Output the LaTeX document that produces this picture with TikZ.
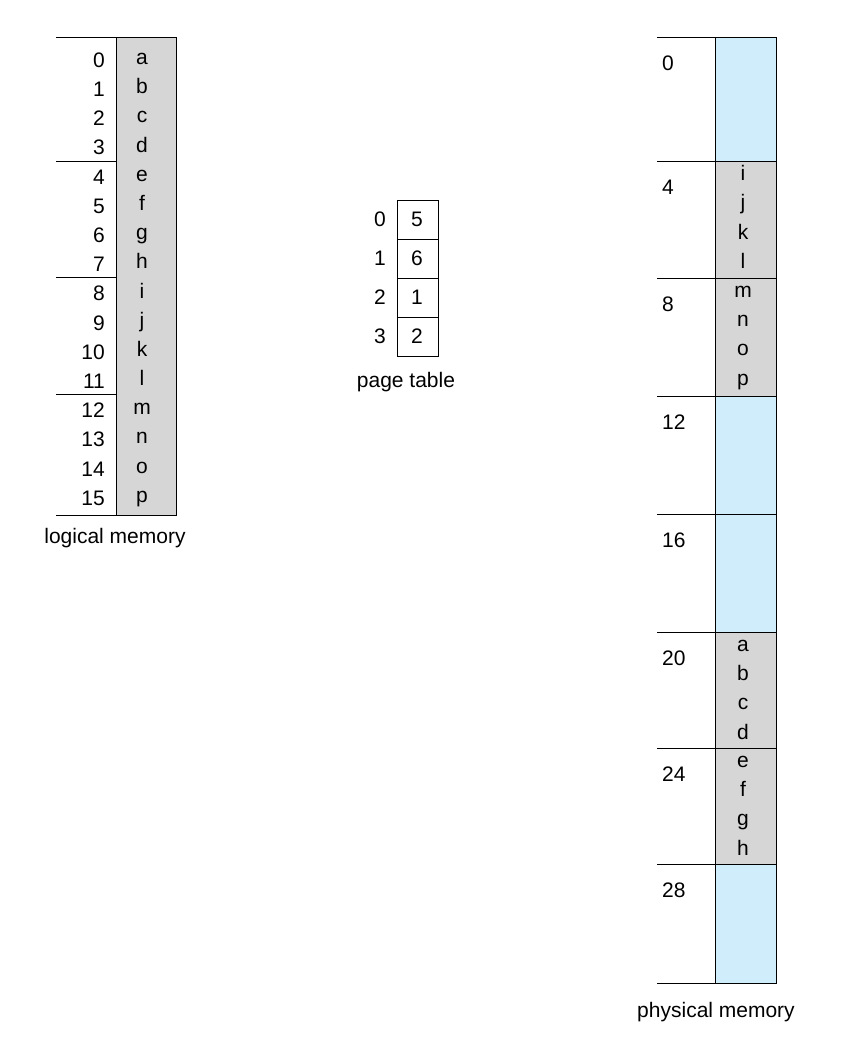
\documentclass[tikz,border=0pt]{standalone}
\usepackage{fontspec}
\setmainfont{Liberation Sans}
\definecolor{pg}{RGB}{214,214,214}
\definecolor{pb}{RGB}{207,237,250}
\begin{document}
\begin{tikzpicture}[x=1pt,y=-1pt,
  t/.style={font=\fontsize{21}{21}\selectfont,inner sep=0pt},
  ln/.style={line width=0.9pt}]
\useasboundingbox (0,0) rectangle (843,1062);
% logical memory
\fill[pg] (116,37) rectangle (176,515);
\draw[ln] (116,37) rectangle (176,515);
\foreach \y in {37,161,277,394,515} \draw[ln] (56,\y) -- (116,\y);
\foreach \i/\c in {0/a,1/b,2/c,3/d,4/e,5/f,6/g,7/h,8/i,9/j,10/k,11/l,12/m,13/n,14/o,15/p}{
  \pgfmathsetmacro\yy{60+\i*29.2}
  \node[t,anchor=east] (ln\i) at (105,\yy) {\i};
  \node[t] (lc\i) at (142,\yy) {\strut\c};
}
\node[t] (lm) at (115,538) {logical memory};
% page table
\foreach \i/\v in {0/5,1/6,2/1,3/2}{
  \pgfmathsetmacro\ya{200+\i*39}
  \pgfmathsetmacro\yb{239+\i*39}
  \draw[ln] (397,\ya) rectangle (438,\yb);
  \node[t] (pv\i) at (417,{(\ya+\yb)/2}) {\v};
  \node[t] (pi\i) at (380,{(\ya+\yb)/2}) {\i};
}
\node[t] (pt) at (406,382) {page table};
% physical memory
\fill[pb] (715,37) rectangle (776,983);
\fill[pg] (715,161) rectangle (776,396);
\fill[pg] (715,632) rectangle (776,864);
\draw[ln] (715,37) rectangle (776,983);
\foreach \y/\n in {37/0,161/4,278/8,396/12,514/16,632/20,748/24,864/28}{
  \draw[ln] (657,\y) -- (776,\y);
  \node[t,anchor=west] (pa\n) at (662,\y+26) {\n};
}
\draw[ln] (657,983) -- (715,983);
\foreach \y/\c in {161/i,278/m,632/a,748/e}{}
\foreach \i/\c in {0/i,1/j,2/k,3/l}{\node[t] (q\i) at (743,{176+\i*29.3}) {\strut\c};}
\foreach \i/\c in {0/m,1/n,2/o,3/p}{\node[t] (r\i) at (743,{293+\i*29.3}) {\strut\c};}
\foreach \i/\c in {0/a,1/b,2/c,3/d}{\node[t] (s\i) at (743,{647+\i*29.3}) {\strut\c};}
\foreach \i/\c in {0/e,1/f,2/g,3/h}{\node[t] (u\i) at (743,{763+\i*29.3}) {\strut\c};}
\node[t] (phm) at (716,1012) {physical memory};
\end{tikzpicture}
\end{document}
